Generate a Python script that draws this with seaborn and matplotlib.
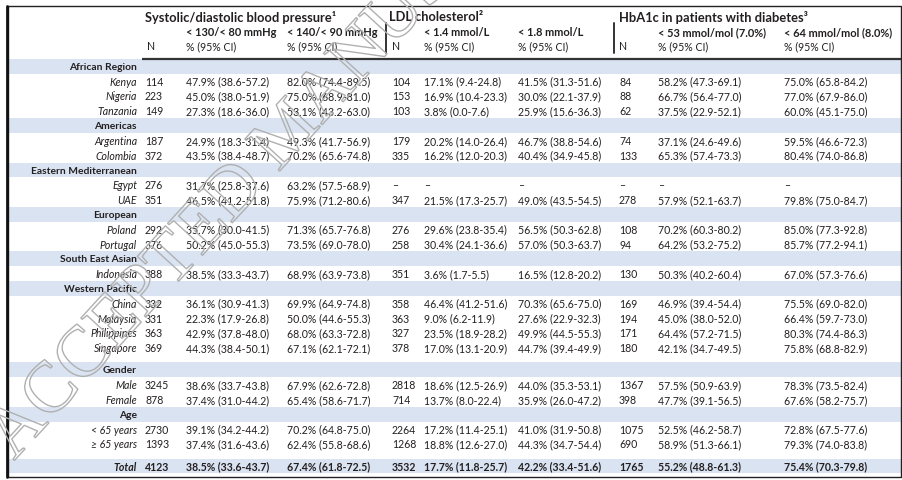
import matplotlib
matplotlib.use("Agg")
import matplotlib.pyplot as plt
import matplotlib.patheffects as pe
from matplotlib import font_manager
import seaborn as sns

# ---- table data ----
groups = ["African Region", "Americas", "Eastern Mediterranean", "European",
          "South East Asian", "Western Pacific", "Gender", "Age"]
group_sizes = [3, 2, 2, 2, 1, 4, 2, 2]

row_labels = ["Kenya", "Nigeria", "Tanzania", "Argentina", "Colombia", "Egypt", "UAE",
              "Poland", "Portugal", "Indonesia", "China", "Malaysia", "Philippines",
              "Singapore", "Male", "Female", "< 65 years", "\u2265 65 years", "Total"]

n_bp = ["114", "223", "149", "187", "372", "276", "351", "292", "376", "388", "332",
        "331", "363", "369", "3245", "878", "2730", "1393", "4123"]
bp_130 = ["47.9% (38.6-57.2)", "45.0% (38.0-51.9)", "27.3% (18.6-36.0)", "24.9% (18.3-31.4)",
          "43.5% (38.4-48.7)", "31.7% (25.8-37.6)", "46.5% (41.2-51.8)", "35.7% (30.0-41.5)",
          "50.2% (45.0-55.3)", "38.5% (33.3-43.7)", "36.1% (30.9-41.3)", "22.3% (17.9-26.8)",
          "42.9% (37.8-48.0)", "44.3% (38.4-50.1)", "38.6% (33.7-43.8)", "37.4% (31.0-44.2)",
          "39.1% (34.2-44.2)", "37.4% (31.6-43.6)", "38.5% (33.6-43.7)"]
bp_140 = ["82.0% (74.4-89.5)", "75.0% (68.9-81.0)", "53.1% (43.2-63.0)", "49.3% (41.7-56.9)",
          "70.2% (65.6-74.8)", "63.2% (57.5-68.9)", "75.9% (71.2-80.6)", "71.3% (65.7-76.8)",
          "73.5% (69.0-78.0)", "68.9% (63.9-73.8)", "69.9% (64.9-74.8)", "50.0% (44.6-55.3)",
          "68.0% (63.3-72.8)", "67.1% (62.1-72.1)", "67.9% (62.6-72.8)", "65.4% (58.6-71.7)",
          "70.2% (64.8-75.0)", "62.4% (55.8-68.6)", "67.4% (61.8-72.5)"]
n_ldl = ["104", "153", "103", "179", "335", "\u2013", "347", "276", "258", "351", "358",
         "363", "327", "378", "2818", "714", "2264", "1268", "3532"]
ldl_14 = ["17.1% (9.4-24.8)", "16.9% (10.4-23.3)", "3.8% (0.0-7.6)", "20.2% (14.0-26.4)",
          "16.2% (12.0-20.3)", "\u2013", "21.5% (17.3-25.7)", "29.6% (23.8-35.4)",
          "30.4% (24.1-36.6)", "3.6% (1.7-5.5)", "46.4% (41.2-51.6)", "9.0% (6.2-11.9)",
          "23.5% (18.9-28.2)", "17.0% (13.1-20.9)", "18.6% (12.5-26.9)", "13.7% (8.0-22.4)",
          "17.2% (11.4-25.1)", "18.8% (12.6-27.0)", "17.7% (11.8-25.7)"]
ldl_18 = ["41.5% (31.3-51.6)", "30.0% (22.1-37.9)", "25.9% (15.6-36.3)", "46.7% (38.8-54.6)",
          "40.4% (34.9-45.8)", "\u2013", "49.0% (43.5-54.5)", "56.5% (50.3-62.8)",
          "57.0% (50.3-63.7)", "16.5% (12.8-20.2)", "70.3% (65.6-75.0)", "27.6% (22.9-32.3)",
          "49.9% (44.5-55.3)", "44.7% (39.4-49.9)", "44.0% (35.3-53.1)", "35.9% (26.0-47.2)",
          "41.0% (31.9-50.8)", "44.3% (34.7-54.4)", "42.2% (33.4-51.6)"]
n_hba1c = ["84", "88", "62", "74", "133", "\u2013", "278", "108", "94", "130", "169",
           "194", "171", "180", "1367", "398", "1075", "690", "1765"]
hba1c_53 = ["58.2% (47.3-69.1)", "66.7% (56.4-77.0)", "37.5% (22.9-52.1)", "37.1% (24.6-49.6)",
            "65.3% (57.4-73.3)", "\u2013", "57.9% (52.1-63.7)", "70.2% (60.3-80.2)",
            "64.2% (53.2-75.2)", "50.3% (40.2-60.4)", "46.9% (39.4-54.4)", "45.0% (38.0-52.0)",
            "64.4% (57.2-71.5)", "42.1% (34.7-49.5)", "57.5% (50.9-63.9)", "47.7% (39.1-56.5)",
            "52.5% (46.2-58.7)", "58.9% (51.3-66.1)", "55.2% (48.8-61.3)"]
hba1c_64 = ["75.0% (65.8-84.2)", "77.0% (67.9-86.0)", "60.0% (45.1-75.0)", "59.5% (46.6-72.3)",
            "80.4% (74.0-86.8)", "\u2013", "79.8% (75.0-84.7)", "85.0% (77.3-92.8)",
            "85.7% (77.2-94.1)", "67.0% (57.3-76.6)", "75.5% (69.0-82.0)", "66.4% (59.7-73.0)",
            "80.3% (74.4-86.3)", "75.8% (68.8-82.9)", "78.3% (73.5-82.4)", "67.6% (58.2-75.7)",
            "72.8% (67.5-77.6)", "79.3% (74.0-83.8)", "75.4% (70.3-79.8)"]

titles = ["Systolic/diastolic blood pressure\u00b9", "LDL cholesterol\u00b2",
          "HbA1c in patients with diabetes\u00b3"]
subheads = ["< 130/< 80 mmHg", "< 140/< 90 mmHg", "< 1.4 mmol/L", "< 1.8 mmol/L",
            "< 53 mmol/mol (7.0%)", "< 64 mmol/mol (8.0%)"]

columns = [n_bp, bp_130, bp_140, n_ldl, ldl_14, ldl_18, n_hba1c, hba1c_53, hba1c_64]

# ---- style ----
sns.set_theme(style="white")
names = {f.name for f in font_manager.fontManager.ttflist}
base_font = "Liberation Sans Narrow" if "Liberation Sans Narrow" in names else "Lato"
plt.rcParams["font.family"] = [base_font, "DejaVu Sans"]

ink = "#231f20"
band = "#dae3f1"
fs = 7.6          # body text
fs_sub = 7.9      # bold sub headers
fs_title = 9.3    # bold column group titles
fs_group = 7.4    # bold region / group labels

col_x = [145, 186, 287, 392, 424, 518, 619, 658, 784]
title_x = [145, 389, 619]
label_x = 137
h = 14.8
top = 60.0

fig = plt.figure(figsize=(9.02, 4.81), dpi=100)
ax = fig.add_axes([0, 0, 1, 1])
ax.set_xlim(0, 902)
ax.set_ylim(481, 0)
ax.axis("off")

# ---- header ----
for t, x in zip(titles, title_x):
    ax.text(x, 17, t, fontsize=fs_title, fontweight="bold", color=ink, va="center")
for t, x in zip(subheads, [col_x[1], col_x[2], col_x[4], col_x[5], col_x[7], col_x[8]]):
    ax.text(x, 33, t, fontsize=fs_sub, fontweight="bold", color=ink, va="center")
for i, x in enumerate(col_x):
    ax.text(x + (2 if i == 0 else 0), 47, "N" if i % 3 == 0 else "% (95% CI)",
            fontsize=fs, color=ink, va="center")
ax.plot([142, 902], [60, 60], color="#333333", lw=1.6, solid_capstyle="butt")
for x in (386, 614):
    ax.plot([x, x], [24, 54], color="#333333", lw=1.4)

# ---- body rows ----
y = top
k = 0
layout = []
for g, size in zip(groups, group_sizes):
    if g == "Gender":
        y += h / 2
    layout.append(("group", g, None, y))
    y += h
    for _ in range(size):
        layout.append(("item", row_labels[k], k, y))
        k += 1
        y += h
y += h / 2
layout.append(("total", row_labels[k], k, y))

for kind, label, idx, y0 in layout:
    yc = y0 + h / 2
    if kind in ("group", "total"):
        ax.axhspan(y0, y0 + h, xmin=8 / 902, xmax=901 / 902, color=band, lw=0, zorder=0)
    if kind == "group":
        ax.text(label_x, yc, label, fontsize=fs_group, fontweight="bold", color=ink,
                ha="right", va="center")
        continue
    weight = "bold" if kind == "total" else "normal"
    ax.text(label_x, yc, label, fontsize=fs, fontstyle="italic", fontweight=weight,
            color=ink, ha="right", va="center")
    for x, col in zip(col_x, columns):
        ax.text(x, yc, col[idx], fontsize=fs, fontweight=weight, color=ink, va="center")

# ---- frame ----
ax.plot([8, 901, 901, 8, 8], [7, 7, 478, 478, 7], color="#222222", lw=1.0)
ax.plot([7, 7], [7, 478], color="#111111", lw=2.0)

# ---- watermark ----
ax.text(14, 462, "ACCEPTED MANUSCRIPT", fontsize=52, family="Liberation Serif",
        rotation=47.5, rotation_mode="anchor", ha="left", va="baseline",
        color=(1, 1, 1, 0), zorder=5,
        path_effects=[pe.Stroke(linewidth=1.0, foreground="#b0b0b0")])

fig.savefig("out.png", dpi=100)
